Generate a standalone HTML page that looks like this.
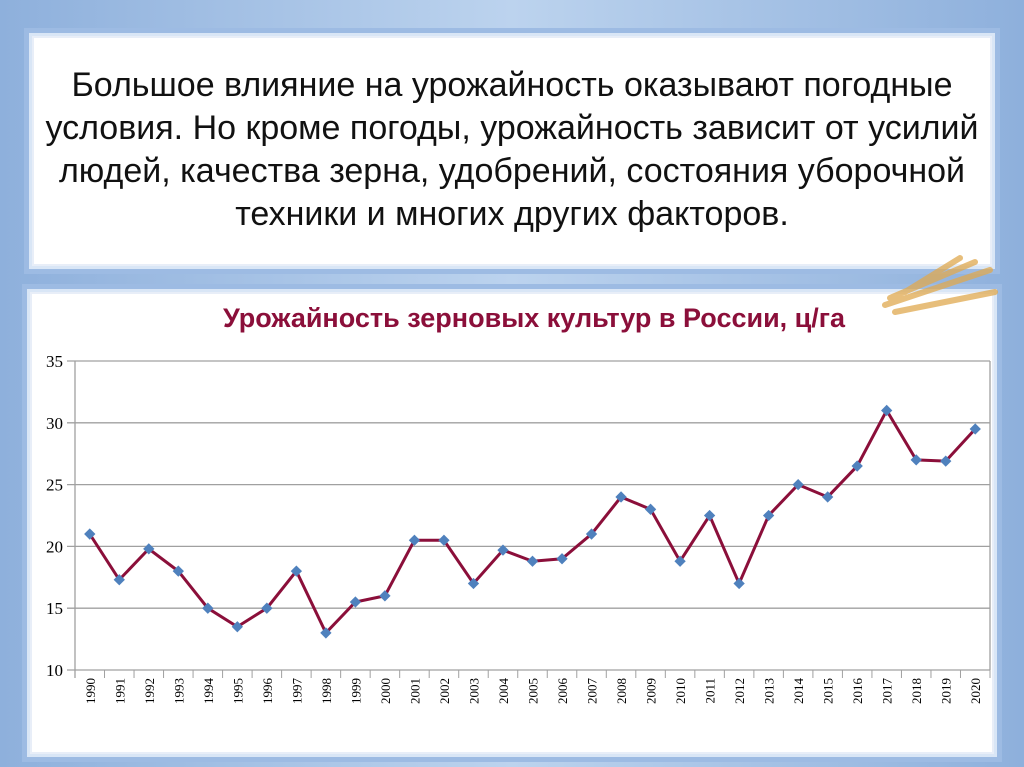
<!DOCTYPE html>
<html><head><meta charset="utf-8"><style>
body{margin:0;width:1024px;height:767px;overflow:hidden;background:#fff;font-family:"Liberation Sans",sans-serif}
.frame{position:absolute;left:0;top:0;width:1024px;height:767px;background:linear-gradient(90deg,#8eb0dc,#bcd3ee 50%,#8eb0dc)}
.panel{position:absolute;background:#fff;box-shadow:0 0 0 3px #d9e6f6,0 0 0 8px #9dbbe3,inset 0 0 0 2px #e8eef8}
.t{position:absolute;left:0;width:1024px;top:64px;text-align:center;font-size:34px;line-height:43px;color:#111;white-space:nowrap}
</style></head><body>
<div class="frame"></div>
<div class="panel" style="left:32px;top:36px;width:960px;height:230px"></div>
<div class="panel" style="left:30px;top:292px;width:964px;height:462px"></div>
<div class="t">Большое влияние на урожайность оказывают погодные<br>условия. Но кроме погоды, урожайность зависит от усилий<br>людей, качества зерна, удобрений, состояния уборочной<br>техники и многих других факторов.</div>
<svg width="1024" height="767" style="position:absolute;left:0;top:0" id="svg">
<g opacity="0.75">
<path d="M885 305 L990 270 M890 298 L975 262 M895 312 L995 292 M905 292 L960 258" stroke="#e0a94f" stroke-width="6" stroke-linecap="round"/>
</g>
<text x="534" y="327" text-anchor="middle" font-size="27" font-weight="bold" fill="#8b0f3a">Урожайность зерновых культур в России, ц/га</text>
<g id="plot"></g>
</svg>
<script>
const years=[1990,1991,1992,1993,1994,1995,1996,1997,1998,1999,2000,2001,2002,2003,2004,2005,2006,2007,2008,2009,2010,2011,2012,2013,2014,2015,2016,2017,2018,2019,2020];
const yields=[21,17.3,19.8,18,15,13.5,15,18,13,15.5,16,20.5,20.5,17,19.7,18.8,19,21,24,23,18.8,22.5,17,22.5,25,24,26.5,31,27,26.9,29.5];
const yTicks=[10,15,20,25,30,35];
const NS='http://www.w3.org/2000/svg',g=document.getElementById('plot');
const L=75,R=990,T=361,B=670,yMin=10,yMax=35;
const xs=i=>L+(R-L)*(i+0.5)/years.length;
const ys=v=>B-(v-yMin)/(yMax-yMin)*(B-T);
function mk(t,a){const e=document.createElementNS(NS,t);for(const k in a)e.setAttribute(k,a[k]);g.appendChild(e);return e;}
yTicks.forEach(v=>{
 const l=mk('line',{x1:L-8,x2:R,y1:ys(v),y2:ys(v),stroke:'#a0a0a0','stroke-width':1.3});
 
 
 const t=mk('text',{x:L-12,y:ys(v)+6,'text-anchor':'end','font-size':17,'font-family':'Liberation Serif'});
 t.textContent=v;
 
 
});
const ax=mk('line',{x1:L,x2:L,y1:T,y2:B+8,stroke:'#a0a0a0','stroke-width':1.3});


mk('line',{x1:R,x2:R,y1:T,y2:B,stroke:'#a0a0a0','stroke-width':1.3});
years.forEach((y,i)=>{
 const xb=L+(R-L)*(i+1)/years.length;
 mk('line',{x1:xb,x2:xb,y1:B,y2:B+8,stroke:'#a0a0a0'});
 const t=mk('text',{transform:`translate(${xs(i)+5},${B+8}) rotate(-90)`,'text-anchor':'end','font-size':13,'font-family':'Liberation Serif'});
 t.textContent=y;
 
 
});
const p=mk('polyline',{points:yields.map((v,i)=>xs(i)+','+ys(v)).join(' '),fill:'none',stroke:'#8b0f3a','stroke-width':3});


yields.forEach((v,i)=>{
 const m=mk('rect',{x:xs(i)-4,y:ys(v)-4,width:8,height:8,fill:'#4f81bd',transform:`rotate(45 ${xs(i)} ${ys(v)})`});
 
 
});
</script>
</body></html>
